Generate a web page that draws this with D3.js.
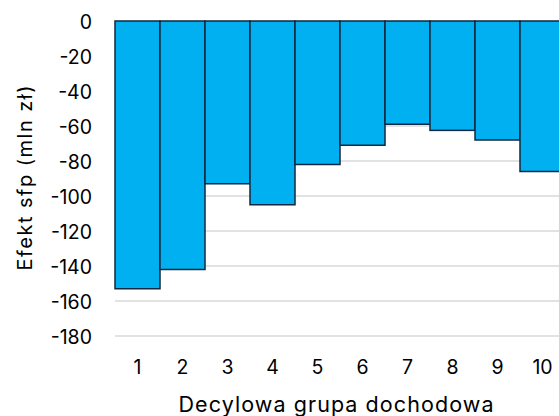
<!DOCTYPE html>
<html><head><meta charset="utf-8">
<script src="https://cdn.jsdelivr.net/npm/d3@7"></script>
<style>body{margin:0;background:#fff}svg{display:block}text{font-family:Inter,"Liberation Sans",Arial,sans-serif;fill:#000}</style>
</head><body><svg id="c" width="559" height="416"></svg>
<script>
const categories = ["1","2","3","4","5","6","7","8","9","10"];
const values = [-153, -142, -93, -105, -82, -71, -59, -62.5, -68, -86];
const yTicks = [0,-20,-40,-60,-80,-100,-120,-140,-160,-180];
const xTitle = "Decylowa grupa dochodowa";
const yTitle = "Efekt sfp (mln zł)";

const FONT = "Inter,'Liberation Sans',Arial,sans-serif";
const svg = d3.select("#c");
const x = d3.scaleBand().domain(categories).range([115, 565]).padding(0);
const y = d3.scaleLinear().domain([0, -180]).range([21, 336]);

svg.append("g").selectAll("line").data(yTicks.slice(1)).join("line")
  .attr("x1", 115).attr("x2", 559).attr("y1", d => y(d)).attr("y2", d => y(d))
  .attr("stroke", "#d9d9d9").attr("stroke-width", 1.5);

svg.append("g").selectAll("rect").data(values).join("rect")
  .attr("x", (d,i) => x(categories[i]))
  .attr("y", y(0))
  .attr("width", x.bandwidth())
  .attr("height", d => y(d) - y(0))
  .attr("fill", "#00b0f0").attr("stroke", "#0e2841").attr("stroke-width", 1.5);

const yAxis = d3.axisLeft(y).tickValues(yTicks).tickFormat(d => String(d)).tickSize(0).tickPadding(0);
const gy = svg.append("g").attr("transform", "translate(92,0)").call(yAxis);
gy.select(".domain").remove();
gy.selectAll("text").attr("font-size", 19.5).attr("font-family", FONT).attr("fill", "#000").attr("dy", "0.36em");

const xAxis = d3.axisBottom(x).tickSize(0).tickPadding(0);
const gx = svg.append("g").attr("transform", "translate(0,367)").call(xAxis);
gx.select(".domain").remove();
gx.selectAll("text").attr("font-size", 19.5).attr("font-family", FONT).attr("fill", "#000").attr("dy", "0.36em");

svg.append("text").attr("x", 336).attr("y", 412).attr("text-anchor", "middle")
  .attr("font-size", 21.5).attr("textLength", 315).attr("lengthAdjust", "spacing").text(xTitle);
svg.append("text").attr("transform", "translate(32,178) rotate(-90)").attr("text-anchor", "middle")
  .attr("font-size", 20).attr("textLength", 185).attr("lengthAdjust", "spacing").text(yTitle);
</script></body></html>
